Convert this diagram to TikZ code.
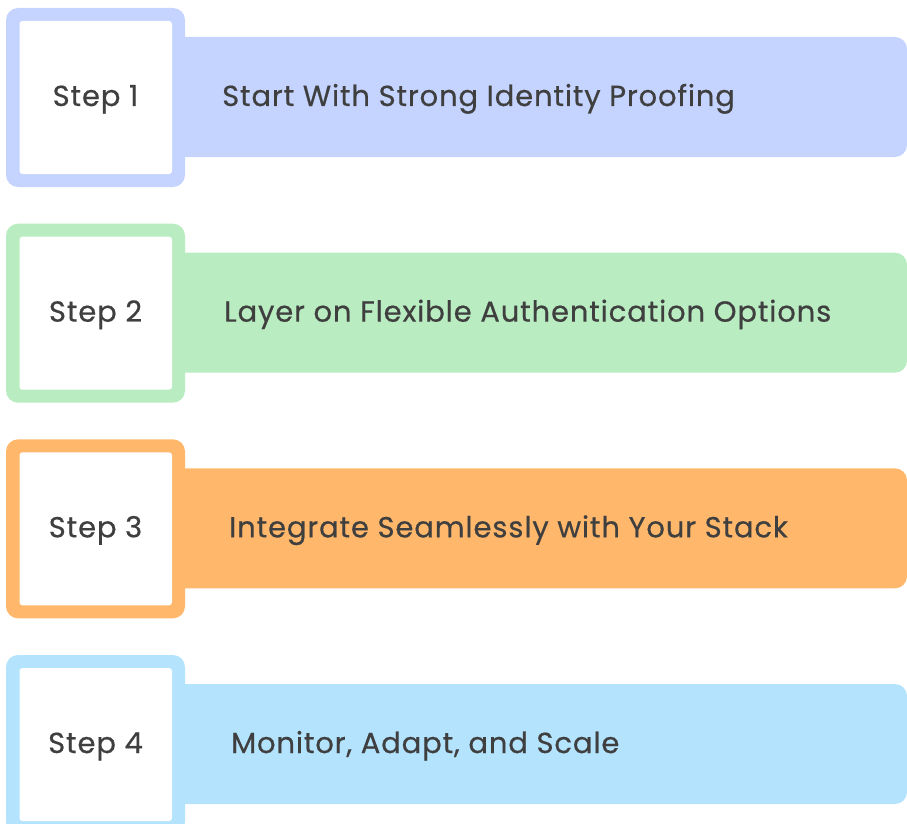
\documentclass[tikz,border=0pt]{standalone}
\usepackage{fontspec}
\setmainfont{Poppins}[FakeBold=0.5, LetterSpace=3]
\definecolor{cA}{HTML}{C5D4FF}
\definecolor{cB}{HTML}{B9EDC1}
\definecolor{cC}{HTML}{FFB86B}
\definecolor{cD}{HTML}{B3E3FD}
\definecolor{txt}{HTML}{3F3F3F}
\tikzset{
  outerbox/.style={rounded corners=12pt, inner sep=0pt, minimum width=179pt, minimum height=179pt},
  innerbox/.style={fill=white, rounded corners=3pt, inner sep=0pt, minimum width=152.5pt, minimum height=153pt},
  barbox/.style={rounded corners=12pt, inner sep=0pt, minimum width=737pt, minimum height=120pt},
  lbl/.style={text=txt, font=\fontsize{29}{34}\selectfont, inner sep=0pt, anchor=base west},
  steplbl/.style={text=txt, font=\fontsize{29}{34}\selectfont, inner sep=0pt, anchor=base}
}
\begin{document}
\begin{tikzpicture}[x=1pt,y=-1pt]
\useasboundingbox (0,0) rectangle (907,824);
\clip (0,0) rectangle (907,824);
\foreach \i/\c/\lx/\txt in {0/cA/222/Start With Strong Identity Proofing,
                             1/cB/224/Layer on Flexible Authentication Options,
                             2/cC/229/Integrate Seamlessly with Your Stack,
                             3/cD/231/Monitor{,} Adapt{,} and Scale}{
  \pgfmathsetmacro{\t}{8+215.67*\i}
  \node[barbox, fill=\c] (bar\i) at (538.5,\t+89) {};
  \node[outerbox, fill=\c] (sq\i) at (95.5,\t+89.5) {};
  \node[innerbox] (in\i) at (95.75,\t+89.5) {};
  \pgfmathtruncatemacro{\n}{\i+1}
  \node[steplbl] (st\i) at (95.5,\t+98) {Step \n};
  \node[lbl] (lb\i) at (\lx,\t+98) {\txt};
}
\end{tikzpicture}
\end{document}
